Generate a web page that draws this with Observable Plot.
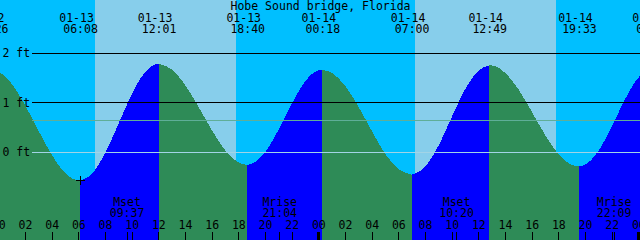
<!DOCTYPE html>
<html>
<head>
<meta charset="utf-8">
<script src="https://cdn.jsdelivr.net/npm/d3@7"></script>
<script src="https://cdn.jsdelivr.net/npm/@observablehq/plot@0.6"></script>
<style>
  html, body { margin: 0; padding: 0; background: #00BFFF; }
</style>
</head>
<body>
<script>
// ---- data (hours from 01-13 00:00, feet) ----
const title = "Hobe Sound bridge, Florida";

// tide curve samples
const tideTimes = [-0.567, 0, 1, 2, 3, 4, 5, 6, 6.133, 7, 8, 9, 10, 11, 12, 12.017,
  13, 14, 15, 16, 17, 18, 18.667, 19, 20, 21, 22, 23, 24, 24.3,
  25, 26, 27, 28, 29, 30, 31, 32, 33, 34, 35, 36, 36.817,
  37, 38, 39, 40, 41, 42, 43, 43.55, 44, 45, 46, 47, 48, 49.1];
const tideLevels = [1.67, 1.63, 1.38, 0.95, 0.44, -0.05, -0.42, -0.57, -0.57, -0.45, -0.03, 0.56, 1.16, 1.61, 1.78, 1.78,
  1.67, 1.36, 0.92, 0.45, 0.04, -0.21, -0.26, -0.24, -0.01, 0.44, 0.97, 1.42, 1.65, 1.66,
  1.60, 1.34, 0.92, 0.43, -0.03, -0.34, -0.46, -0.30, 0.12, 0.70, 1.26, 1.64, 1.75,
  1.75, 1.60, 1.27, 0.82, 0.35, -0.04, -0.26, -0.29, -0.26, 0.02, 0.51, 1.06, 1.50, 1.68];

// high / low tide events
const eventTimes  = [-0.567, 6.133, 12.017, 18.667, 24.3, 31.0, 36.817, 43.55, 49.1];
const eventLevels = [1.67, -0.57, 1.78, -0.26, 1.66, -0.46, 1.75, -0.29, 1.68];
const eventDates  = ["01-12", "01-13", "01-13", "01-13", "01-14", "01-14", "01-14", "01-14", "01-15"];
const eventClock  = ["23:26", "06:08", "12:01", "18:40", "00:18", "07:00", "12:49", "19:33", "01:06"];

// daylight
const sunrise = [7.22, 31.22];
const sunset  = [17.8, 41.85];

// moon events
const moonTimes = [9.617, 21.067, 34.333, 46.15];
const moonNames = ["Mset", "Mrise", "Mset", "Mrise"];
const moonClock = ["09:37", "21:04", "10:20", "22:09"];

// axis
const hourTicks  = [0, 2, 4, 6, 8, 10, 12, 14, 16, 18, 20, 22, 24, 26, 28, 30, 32, 34, 36, 38, 40, 42, 44, 46, 48];
const hourLabels = ["00","02","04","06","08","10","12","14","16","18","20","22","00","02","04","06","08","10","12","14","16","18","20","22","00"];
const midnights  = [0, 24, 48];
const levelTicks  = [2, 1, 0];
const levelLabels = ["2 ft", "1 ft", "0 ft"];
const meanLevel = 0.65;

const markTime = 6.133, markLevel = -0.57;

const xDomain = [0.1275, 48.1275];
const yDomain = [-1.7778, 3.0707];

// ---- build tables ----
const segs = [];
for (let i = 0; i < eventTimes.length - 1; i++) {
  const a = eventTimes[i], b = eventTimes[i + 1];
  const rising = eventLevels[i + 1] > eventLevels[i];
  tideTimes.forEach((t, j) => {
    if (t >= a && t <= b) segs.push({t, v: tideLevels[j], seg: i, phase: rising ? "flood" : "ebb"});
  });
}
const events = eventTimes.map((t, i) => ({t, date: eventDates[i], clock: eventClock[i]}));
const days = sunrise.map((r, i) => ({r, s: sunset[i]}));
const moons = moonTimes.map((t, i) => ({t, name: moonNames[i], clock: moonClock[i]}));
const hours = hourTicks.map((h, i) => ({h, label: hourLabels[i]}));
const levels = levelTicks.map((v, i) => ({v, label: levelLabels[i]}));

const txt = {fill: "black", lineAnchor: "middle"};

const plot = Plot.plot({
  width: 640, height: 240,
  marginTop: 0, marginRight: 0, marginBottom: 0, marginLeft: 0,
  x: {domain: xDomain, axis: null},
  y: {domain: yDomain, axis: null},
  color: {domain: ["flood", "ebb"], range: ["#0000FF", "#2E8B57"]},
  style: {background: "#00BFFF", fontFamily: "DejaVu Sans Mono", fontSize: "11.5px", color: "black", shapeRendering: "crispEdges"},
  marks: [
    Plot.rectX(days, {x1: "r", x2: "s", fill: "#87CEEB"}),
    Plot.areaY(segs, {x: "t", y1: yDomain[0], y2: "v", z: "seg", fill: "phase", curve: "monotone-x", clip: true}),
    Plot.ruleY([levelTicks[0], levelTicks[1]], {stroke: "black", insetLeft: 32}),
    Plot.ruleY([meanLevel], {stroke: "#5fae98", insetLeft: 32}),
    Plot.ruleY([levelTicks[2]], {stroke: "#a2d4e6", insetLeft: 32}),
    Plot.text(levels, {...txt, y: "v", text: "label", frameAnchor: "left", textAnchor: "start", dx: 2}),
    Plot.text([title], {...txt, frameAnchor: "top", dy: 6}),
    Plot.text(events, {...txt, x: "t", text: "date", frameAnchor: "top", dy: 17.5, dx: -4}),
    Plot.text(events, {...txt, x: "t", text: "clock", frameAnchor: "top", dy: 29}),
    Plot.text(moons, {...txt, x: "t", text: "name", frameAnchor: "bottom", dy: -38.5}),
    Plot.text(moons, {...txt, x: "t", text: "clock", frameAnchor: "bottom", dy: -27}),
    Plot.text(hours, {...txt, x: "h", text: "label", frameAnchor: "bottom", dy: -15}),
    Plot.ruleX(hours, {x: "h", stroke: "black", insetTop: 232}),
    Plot.ruleX(moons, {x: "t", stroke: "black", insetTop: 232}),
    Plot.ruleX(midnights, {stroke: "black", strokeWidth: 3, insetTop: 232}),
    Plot.dot([{t: markTime, v: markLevel}], {
      x: "t", y: "v", r: 4.5, fill: "none", stroke: "black", strokeWidth: 1,
      symbol: {draw(ctx, size) { const r = Math.sqrt(size / Math.PI); ctx.moveTo(-r, 0); ctx.lineTo(r, 0); ctx.moveTo(0, -r); ctx.lineTo(0, r); }}
    })
  ]
});
document.body.appendChild(plot);
</script>
</body>
</html>
